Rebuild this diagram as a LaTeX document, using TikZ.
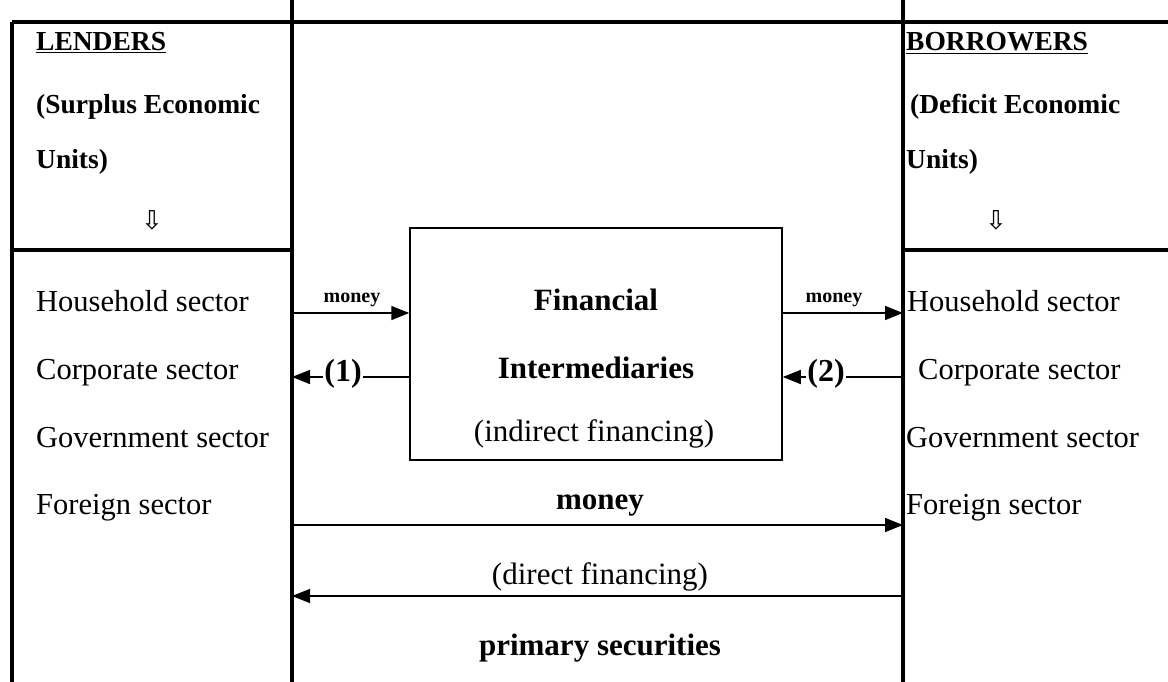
\documentclass[tikz,border=0pt]{standalone}
\usepackage{fontspec}
\setmainfont{Liberation Serif}
\newfontfamily\symfont{DejaVu Sans}
\usetikzlibrary{arrows.meta,positioning}
\tikzset{>={Triangle[length=18pt,width=14pt]}}
\tikzset{
    rule/.style={line width=4pt},
    flow/.style={->,line width=1.5pt},
    txt/.style={font=\fontsize{30.5}{34}\selectfont,inner sep=0pt,anchor=base west},
    hd/.style={font=\fontsize{27.5}{30}\selectfont\bfseries,inner sep=0pt,anchor=base west},
    big/.style={font=\fontsize{31}{34}\selectfont\bfseries,inner sep=0pt},
    tag/.style={font=\fontsize{20}{22}\selectfont\bfseries,inner sep=0pt},
    num/.style={font=\fontsize{32}{34}\selectfont\bfseries,inner sep=1pt,fill=white},
    dn/.style={font=\fontsize{26}{28}\selectfont\symfont,inner sep=0pt}
}

\begin{document}
\begin{tikzpicture}[x=1pt,y=-1pt]
            \useasboundingbox (0,0) rectangle (1168,682);

            % frame
            \draw[rule] (12,22) -- (1168,22);
            \draw[rule] (12,22) -- (12,682);
            \draw[rule] (292,0) -- (292,682);
            \draw[rule] (903,0) -- (903,682);
            \draw[rule] (12,250) -- (292,250);
            \draw[rule] (903,250) -- (1168,250);

            % lenders
            \node[hd] (lend) at (36,51) {\underline{LENDERS}};
            \node[hd] (lsur) at (36,114) {(Surplus Economic};
            \node[hd] (lun) at (36,169) {Units)};
            \node[dn] (ldn) at (152,220) {⇩};
            \node[txt] (lh) at (36,311) {Household sector};
            \node[txt] (lc) at (36,379) {Corporate sector};
            \node[txt] (lg) at (36,447) {Government sector};
            \node[txt] (lf) at (36,514) {Foreign sector};

            % borrowers
            \node[hd] (borr) at (906,51) {\underline{BORROWERS}};
            \node[hd] (bdef) at (910,114) {(Deficit Economic};
            \node[hd] (bun) at (906,169) {Units)};
            \node[dn] (bdn) at (996,220) {⇩};
            \node[txt] (bh) at (907,311) {Household sector};
            \node[txt] (bc) at (918,379) {Corporate sector};
            \node[txt] (bg) at (906,447) {Government sector};
            \node[txt] (bf) at (906,514) {Foreign sector};

            % intermediaries
            \node[draw, line width=1.5pt, minimum width=372pt, minimum height=232pt, inner sep=0pt] (fi) at (596,344) {};
            \node[big] (fin) at (596,300) {Financial};
            \node[big] (int) at (596,368) {Intermediaries};
            \node[big, font=\fontsize{31}{34}\selectfont\mdseries] (ind) at (594,434) {(indirect financing)};

            % end points on the rules
            \coordinate (la) at (292,313);
            \coordinate (lb) at (292,377);
            \coordinate (ra) at (903,313);
            \coordinate (rb) at (903,377);
            \coordinate (lm) at (292,525);
            \coordinate (rm) at (903,525);
            \coordinate (ld) at (292,596);
            \coordinate (rd) at (903,596);

            \draw[flow] (la) -- (fi.west |- la);
            \draw[flow] (fi.west |- lb) -- (lb);
            \draw[flow] (fi.east |- ra) -- (ra);
            \draw[flow] (rb) -- (fi.east |- rb);
            \draw[flow] (lm) -- (rm);
            \draw[flow] (rd) -- (ld);

            \node[tag] (m1) at (352,300) {money};
            \node[tag] (m2) at (834,300) {money};
            \node[num] (n1) at (343,374) {(1)};
            \node[num] (n2) at (826,374) {(2)};
            \node[big] (mb) at (600,506) {money};
            \node[big, font=\fontsize{31}{34}\selectfont\mdseries] (df) at (600,577) {(direct financing)};
            \node[big] (ps) at (600,648) {primary securities};

\end{tikzpicture}
\end{document}
